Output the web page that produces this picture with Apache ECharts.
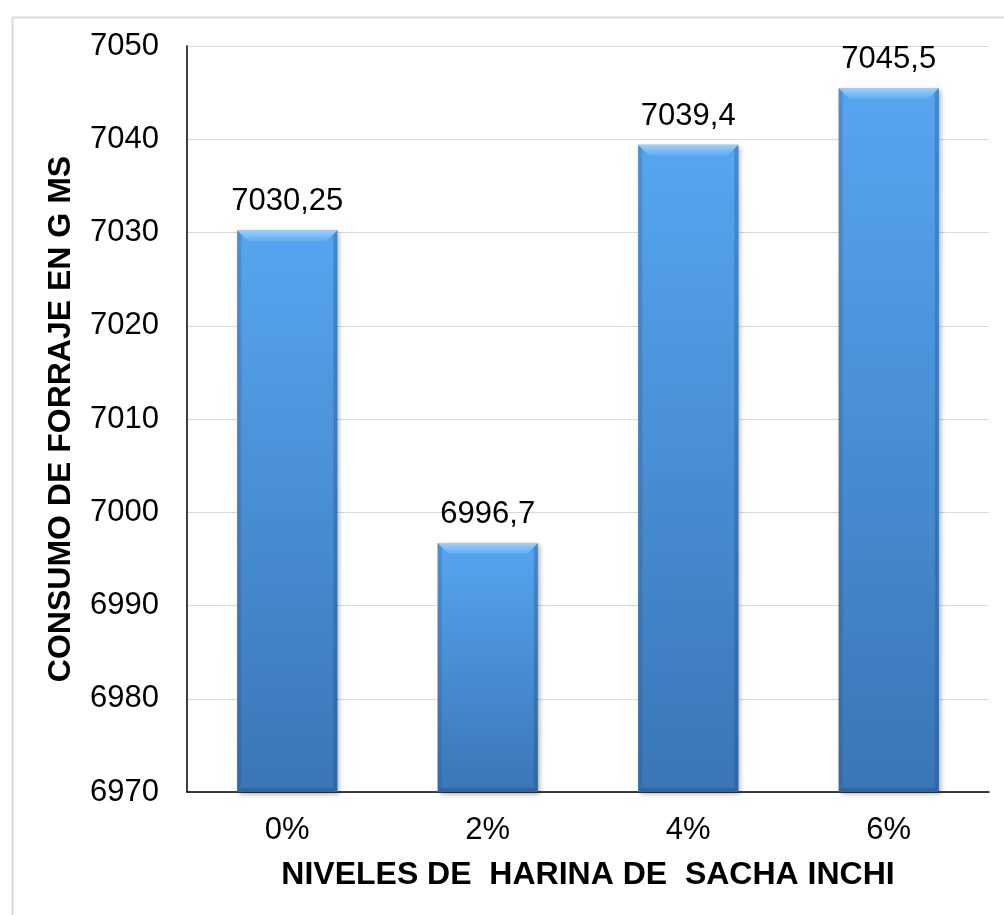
<!DOCTYPE html>
<html>
<head>
<meta charset="utf-8">
<script src="https://cdn.jsdelivr.net/npm/echarts@6/dist/echarts.min.js"></script>
<style>
html,body{margin:0;padding:0;background:#fff;}
#chart{width:1004px;height:915px;}
</style>
</head>
<body>
<div id="chart"></div>
<script>
const categories = ['0%', '2%', '4%', '6%'];
const values = [7030.25, 6996.7, 7039.4, 7045.5];
const valueLabels = ['7030,25', '6996,7', '7039,4', '7045,5'];
const yTitle = 'CONSUMO DE FORRAJE EN G MS';
const xTitle = 'NIVELES DE  HARINA DE  SACHA INCHI';

const FONT = "'Liberation Sans', Arial, sans-serif";
const chart = echarts.init(document.getElementById('chart'));

function bevel(params, api) {
  const idx = api.value(0);
  const val = api.value(1);
  const top = api.coord([idx, val]);
  const base = api.coord([idx, 6970]);
  const w = api.size([1, 0])[0] * 0.5;
  const x0 = top[0] - w / 2, x1 = top[0] + w / 2;
  const y0 = top[1], yb = base[1];
  const d = 11, e = 4;
  return {
    type: 'group',
    silent: true,
    children: [
      { type: 'polygon', shape: { points: [[x0, y0], [x0 + e, y0 + e], [x0 + e, yb - e], [x0, yb]] },
        style: { fill: 'rgba(30,70,120,0.22)' } },
      { type: 'polygon', shape: { points: [[x1, y0], [x1 - e, y0 + e], [x1 - e, yb - e], [x1, yb]] },
        style: { fill: 'rgba(30,70,120,0.30)' } },
      { type: 'polygon', shape: { points: [[x0, yb], [x0 + e, yb - e], [x1 - e, yb - e], [x1, yb]] },
        style: { fill: 'rgba(30,70,120,0.35)' } },
      { type: 'polygon', shape: { points: [[x0, y0], [x1, y0], [x1 - d, y0 + d], [x0 + d, y0 + d]] },
        style: { fill: new echarts.graphic.LinearGradient(0, 0, 0, 1, [
          { offset: 0, color: '#9fd0fb' }, { offset: 1, color: '#5eabf3' }]) } }
    ]
  };
}

chart.setOption({
  backgroundColor: '#fff',
  animation: false,
  graphic: [{
    type: 'rect',
    left: 10, top: 15,
    shape: { width: 1100, height: 1000 },
    style: { fill: 'none', stroke: '#d9d9d9', lineWidth: 2 },
    silent: true
  }],
  grid: { left: 187, right: 15, top: 46, bottom: 123 },
  xAxis: {
    type: 'category',
    data: categories,
    name: xTitle,
    nameLocation: 'middle',
    nameGap: 67,
    nameTextStyle: { fontFamily: FONT, fontSize: 32, fontWeight: 'bold', color: '#000' },
    axisLine: { lineStyle: { color: '#000', width: 1.5 } },
    axisTick: { show: false },
    axisLabel: { fontFamily: FONT, fontSize: 31, color: '#000', margin: 23 }
  },
  yAxis: {
    type: 'value',
    min: 6970, max: 7050, interval: 10,
    name: yTitle,
    nameLocation: 'middle',
    nameGap: 110,
    nameTextStyle: { fontFamily: FONT, fontSize: 32, fontWeight: 'bold', color: '#000' },
    axisLine: { show: true, lineStyle: { color: '#000', width: 1.5 } },
    axisTick: { show: false },
    axisLabel: { fontFamily: FONT, fontSize: 31, color: '#000', margin: 28, formatter: v => String(v) },
    splitLine: { lineStyle: { color: '#d9d9d9', width: 1 } }
  },
  series: [{
    type: 'bar',
    data: values,
    barWidth: '50%',
    z: 2,
    itemStyle: {
      color: new echarts.graphic.LinearGradient(0, 0, 0, 1, [
        { offset: 0, color: '#56a5f0' },
        { offset: 1, color: '#3a76b6' }
      ]),
      shadowBlur: 5,
      shadowColor: 'rgba(0,0,0,0.35)',
      shadowOffsetX: 2,
      shadowOffsetY: 2
    },
    label: {
      show: true,
      position: 'top',
      distance: 13,
      fontFamily: FONT,
      fontSize: 31,
      color: '#000',
      formatter: p => valueLabels[p.dataIndex]
    }
  }, {
    type: 'custom',
    z: 3,
    renderItem: bevel,
    data: values.map((v, i) => [i, v])
  }]
});
</script>
</body>
</html>
